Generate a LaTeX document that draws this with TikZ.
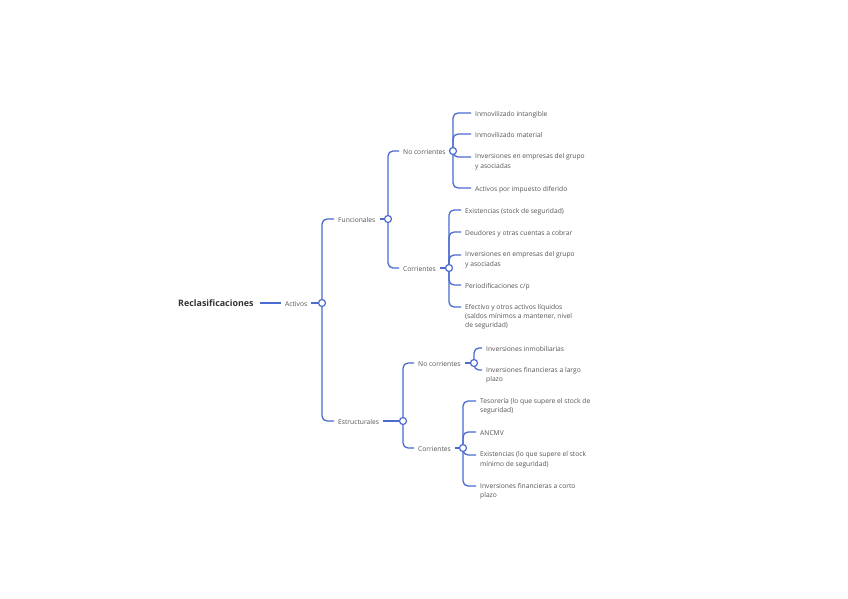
\documentclass[tikz,border=0pt]{standalone}
\usepackage{fontspec}
\setmainfont{Open Sans}
\pgfdeclarelayer{bg}
\pgfsetlayers{bg,main}
\definecolor{lnblue}{HTML}{4A6BD0}
\definecolor{txtgray}{HTML}{555555}
\definecolor{rootgray}{HTML}{333333}
\begin{document}
\begin{tikzpicture}[x=1pt,y=-1pt,
  leaf/.style={anchor=north west, inner xsep=4pt, inner ysep=0pt, align=left,
               font=\fontsize{6.7}{9.4}\selectfont, text=txtgray,
               execute at begin node=\strut},
  knob/.style={circle, draw=lnblue, fill=white, line width=1.2pt, minimum size=7pt, inner sep=0pt},
  link/.style={draw=lnblue, line width=1.3pt, rounded corners=5pt},
  hook/.style={yshift=-3.3pt},
]
\begin{pgfonlayer}{bg}
\fill[white] (0,0) rectangle (848,599);
\end{pgfonlayer}
\useasboundingbox (0,0) rectangle (848,599);

% root and first level
\node[anchor=base west, inner sep=0pt, font=\bfseries\fontsize{8.9}{10}\selectfont, text=rootgray] (root) at (178,306.3) {Reclasificaciones};
\node[leaf] (act) at (281,299.7) {Activos};
\node[knob] (kact) at (322,303) {};

% second level
\node[leaf] (func) at (334,215.7) {Funcionales};
\node[knob] (kfunc) at (388,219) {};
\node[leaf] (estr) at (334,417.7) {Estructurales};
\node[knob] (kestr) at (403,421) {};

% third level
\node[leaf] (nc1) at (399,147.7) {No corrientes};
\node[knob] (knc1) at (453,151) {};
\node[leaf] (co1) at (399,264.7) {Corrientes};
\node[knob] (kco1) at (449,268) {};
\node[leaf] (nc2) at (414,359.7) {No corrientes};
\node[knob] (knc2) at (474,363) {};
\node[leaf] (co2) at (414,444.7) {Corrientes};
\node[knob] (kco2) at (463,448) {};

% leaves: funcionales / no corrientes
\node[leaf] (a1) at (471,109.7) {Inmovilizado intangible};
\node[leaf] (a2) at (471,130.7) {Inmovilizado material};
\node[leaf] (a3) at (471,153.7) {Inversiones en empresas del grupo\\y asociadas};
\node[leaf] (a4) at (471,184.7) {Activos por impuesto diferido};

% leaves: funcionales / corrientes
\node[leaf] (b1) at (461,206.7) {Existencias (stock de seguridad)};
\node[leaf] (b2) at (461,228.7) {Deudores y otras cuentas a cobrar};
\node[leaf] (b3) at (461,251.7) {Inversiones en empresas del grupo\\y asociadas};
\node[leaf] (b4) at (461,281.7) {Periodificaciones c/p};
\node[leaf] (b5) at (461,303.7) {Efectivo y otros activos líquidos\\(saldos mínimos a mantener, nivel\\de seguridad)};

% leaves: estructurales / no corrientes
\node[leaf] (c1) at (482,344.7) {Inversiones inmobiliarias};
\node[leaf] (c2) at (482,366.7) {Inversiones financieras a largo\\plazo};

% leaves: estructurales / corrientes
\node[leaf] (d1) at (476,397.7) {Tesorería (lo que supere el stock de\\seguridad)};
\node[leaf] (d2) at (476,428.7) {ANCMV};
\node[leaf] (d3) at (476,451.7) {Existencias (lo que supere el stock\\mínimo de seguridad)};
\node[leaf] (d4) at (476,482.7) {Inversiones financieras a corto\\plazo};

\begin{pgfonlayer}{bg}
  \draw[link] ([xshift=6pt]root.east |- kact) -- (kact -| act.west);
  \draw[link] (kact -| act.east) -- (kact.center);
  \foreach \c in {func,estr} \draw[link] (kact.center) |- ([hook]\c.north west);
  \draw[link] (kfunc -| func.east) -- (kfunc.center);
  \draw[link] (kestr -| estr.east) -- (kestr.center);
  \foreach \c in {nc1,co1} \draw[link] (kfunc.center) |- ([hook]\c.north west);
  \foreach \c in {nc2,co2} \draw[link] (kestr.center) |- ([hook]\c.north west);
  \draw[link] (knc1 -| nc1.east) -- (knc1.center);
  \draw[link] (kco1 -| co1.east) -- (kco1.center);
  \draw[link] (knc2 -| nc2.east) -- (knc2.center);
  \draw[link] (kco2 -| co2.east) -- (kco2.center);
  \foreach \c in {a1,a2,a3,a4} \draw[link] (knc1.center) |- ([hook]\c.north west);
  \foreach \c in {b1,b2,b3,b4,b5} \draw[link] (kco1.center) |- ([hook]\c.north west);
  \foreach \c in {c1,c2} \draw[link] (knc2.center) |- ([hook]\c.north west);
  \foreach \c in {d1,d2,d3,d4} \draw[link] (kco2.center) |- ([hook]\c.north west);
\end{pgfonlayer}
\end{tikzpicture}
\end{document}
